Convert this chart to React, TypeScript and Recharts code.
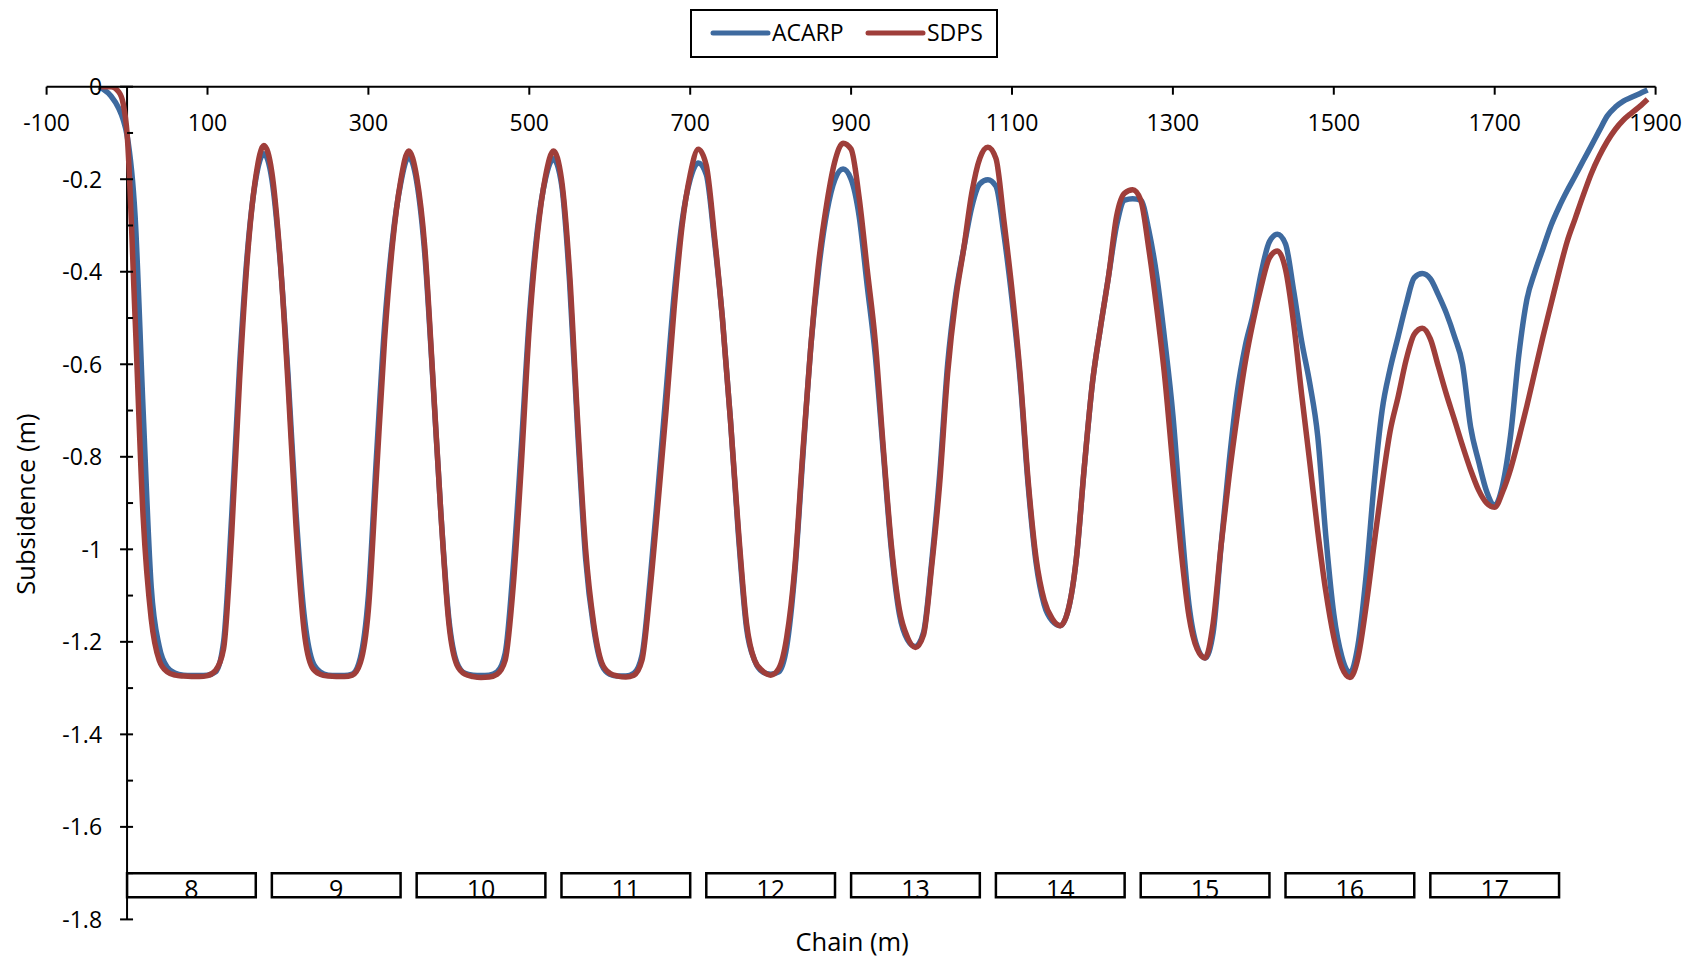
import { LineChart, Line, XAxis, YAxis, ReferenceLine, ReferenceArea, Legend } from "recharts";

// chain positions (m)
const chain = [
  -35, -30, -20, -10, -5,
  0, 10, 20, 30, 40, 50, 60, 70, 80, 90,
  100, 110, 120, 130, 140, 150, 160, 170, 180, 190,
  200, 210, 220, 230, 240, 250, 260, 270, 280, 290,
  300, 310, 320, 330, 340, 350, 360, 370, 380, 390,
  400, 410, 420, 430, 440, 450, 460, 470, 480, 490,
  500, 510, 520, 530, 540, 550, 560, 570, 580, 590,
  600, 610, 620, 630, 640, 650, 660, 670, 680, 690,
  700, 710, 720, 730, 740, 750, 760, 770, 780, 790,
  800, 810, 820, 830, 840, 850, 860, 870, 880, 890,
  900, 910, 920, 930, 940, 950, 960, 970, 980, 990,
  1000, 1010, 1020, 1030, 1040, 1050, 1060, 1070, 1080, 1090,
  1100, 1110, 1120, 1130, 1140, 1150, 1160, 1170, 1180, 1190,
  1200, 1210, 1220, 1230, 1240, 1250, 1260, 1270, 1280, 1290,
  1300, 1310, 1320, 1330, 1340, 1350, 1360, 1370, 1380, 1390,
  1400, 1410, 1420, 1430, 1440, 1450, 1460, 1470, 1480, 1490,
  1500, 1510, 1520, 1530, 1540, 1550, 1560, 1570, 1580, 1590,
  1600, 1610, 1620, 1630, 1640, 1650, 1660, 1670, 1680, 1690,
  1700, 1710, 1720, 1730, 1740, 1750, 1760, 1770, 1780, 1790,
  1800, 1810, 1820, 1830, 1840, 1850, 1860, 1870, 1880, 1890,
];

// ACARP subsidence (m)
const acarp = [
  0, -0.005, -0.02, -0.048, -0.07,
  -0.105, -0.28, -0.7, -1.08, -1.21, -1.255, -1.268, -1.272, -1.273, -1.273,
  -1.272, -1.265, -1.2, -0.93, -0.6, -0.35, -0.2, -0.145, -0.2, -0.37,
  -0.62, -0.92, -1.14, -1.24, -1.265, -1.272, -1.273, -1.273, -1.27, -1.235,
  -1.1, -0.8, -0.52, -0.33, -0.21, -0.152, -0.205, -0.36, -0.63, -0.92,
  -1.15, -1.245, -1.268, -1.272, -1.273, -1.272, -1.265, -1.225, -1.04, -0.78,
  -0.5, -0.31, -0.2, -0.156, -0.21, -0.42, -0.74, -1.02, -1.17, -1.25,
  -1.27, -1.274, -1.274, -1.268, -1.23, -1.07, -0.87, -0.66, -0.45, -0.29,
  -0.2, -0.165, -0.19, -0.33, -0.5, -0.72, -0.97, -1.17, -1.24, -1.265,
  -1.27, -1.265, -1.21, -1.05, -0.8, -0.56, -0.39, -0.27, -0.2, -0.178,
  -0.2, -0.28, -0.43, -0.58, -0.79, -1.0, -1.14, -1.195, -1.21, -1.18,
  -1.03, -0.84, -0.6, -0.45, -0.35, -0.26, -0.21, -0.201, -0.215, -0.32,
  -0.46, -0.63, -0.86, -1.03, -1.12, -1.155, -1.165, -1.13, -1.02, -0.82,
  -0.64, -0.52, -0.41, -0.3, -0.245, -0.242, -0.245, -0.31, -0.41, -0.55,
  -0.71, -0.93, -1.12, -1.21, -1.235, -1.18, -0.99, -0.81, -0.66, -0.56,
  -0.49, -0.4, -0.335, -0.319, -0.34, -0.44, -0.55, -0.64, -0.755, -0.97,
  -1.14, -1.232, -1.267, -1.208, -1.06, -0.86, -0.7, -0.61, -0.54, -0.47,
  -0.413, -0.404, -0.415, -0.45, -0.49, -0.54, -0.6, -0.735, -0.81, -0.875,
  -0.905, -0.86, -0.75, -0.58, -0.46, -0.4, -0.35, -0.3, -0.26, -0.225,
  -0.193, -0.16, -0.128, -0.095, -0.063, -0.044, -0.031, -0.023, -0.015, -0.007,
];

// SDPS subsidence (m)
const sdps = [
  0, 0, 0, -0.012, -0.035,
  -0.1, -0.5, -0.93, -1.15, -1.24, -1.265, -1.272, -1.274, -1.275, -1.275,
  -1.273, -1.262, -1.215, -0.97, -0.63, -0.36, -0.195, -0.127, -0.185, -0.365,
  -0.64, -0.95, -1.175, -1.255, -1.27, -1.274, -1.275, -1.275, -1.272, -1.245,
  -1.13, -0.84, -0.55, -0.34, -0.205, -0.139, -0.195, -0.345, -0.625, -0.92,
  -1.16, -1.25, -1.27, -1.275, -1.277, -1.276, -1.27, -1.24, -1.08, -0.82,
  -0.52, -0.32, -0.195, -0.139, -0.2, -0.4, -0.72, -1.0, -1.16, -1.245,
  -1.268, -1.274, -1.276, -1.272, -1.24, -1.09, -0.9, -0.7, -0.48, -0.3,
  -0.19, -0.135, -0.17, -0.32, -0.5, -0.72, -0.96, -1.16, -1.24, -1.263,
  -1.272, -1.258, -1.19, -1.04, -0.79, -0.56, -0.375, -0.25, -0.16, -0.122,
  -0.135, -0.24, -0.395, -0.55, -0.78, -0.99, -1.13, -1.19, -1.212, -1.185,
  -1.04, -0.86, -0.62, -0.46, -0.35, -0.23, -0.155, -0.131, -0.155, -0.29,
  -0.44, -0.62, -0.85, -1.02, -1.11, -1.15, -1.165, -1.13, -1.02, -0.82,
  -0.64, -0.52, -0.41, -0.28, -0.23, -0.223, -0.245, -0.35, -0.48, -0.63,
  -0.82, -1.0, -1.145, -1.215, -1.235, -1.16, -0.99, -0.84, -0.71, -0.595,
  -0.505, -0.43, -0.37, -0.355, -0.395, -0.51, -0.665, -0.81, -0.96, -1.09,
  -1.19, -1.255, -1.277, -1.235, -1.125, -0.99, -0.86, -0.745, -0.67, -0.59,
  -0.535, -0.522, -0.545, -0.605, -0.665, -0.72, -0.776, -0.828, -0.872, -0.9,
  -0.909, -0.875, -0.825, -0.76, -0.69, -0.615, -0.54, -0.47, -0.4, -0.335,
  -0.285, -0.235, -0.188, -0.15, -0.118, -0.092, -0.072, -0.057, -0.043, -0.027,
];

// longwall panels along the line
const panelNames = ["8", "9", "10", "11", "12", "13", "14", "15", "16", "17"];
const panelStart = [0, 180, 360, 540, 720, 900, 1080, 1260, 1440, 1620];
const panelEnd = [160, 340, 520, 700, 880, 1060, 1240, 1420, 1600, 1780];

const xTicks = [-100, 100, 300, 500, 700, 900, 1100, 1300, 1500, 1700, 1900];
const yTicks = [0, -0.1, -0.2, -0.3, -0.4, -0.5, -0.6, -0.7, -0.8, -0.9, -1, -1.1, -1.2, -1.3, -1.4, -1.5, -1.6, -1.7, -1.8];

const rows = chain.map((c, i) => ({ chain: c, acarp: acarp[i], sdps: sdps[i] }));

const BLUE = "#3E6A9F";
const RED = "#9F3E3A";
const FONT = "'Open Sans', sans-serif";

const W = 1700;
const H = 960;
const PLOT_LEFT = 46.6;
const PLOT_RIGHT = 1655.6;
const PLOT_TOP = 86.7;
const PLOT_BOTTOM = 919.4;
const TOP_AXIS_H = 30;
const BOTTOM_AXIS_H = 40;
const AXIS_X = PLOT_LEFT + ((0 - -100) / 2000) * (PLOT_RIGHT - PLOT_LEFT);

function XTick(props: any) {
  const { x, payload } = props;
  return (
    <g>
      <line x1={x} x2={x} y1={PLOT_TOP} y2={PLOT_TOP + 8} stroke="#000" strokeWidth={2} />
      <text x={x} y={PLOT_TOP + 44} textAnchor="middle" fontSize={23} fontFamily={FONT} fill="#000">
        {payload.value}
      </text>
    </g>
  );
}

function YTick(props: any) {
  const { y, payload } = props;
  const v = payload.value;
  const major = Math.round(Math.abs(v) * 10) % 2 === 0;
  if (!major) return <line x1={AXIS_X} x2={AXIS_X + 6} y1={y} y2={y} stroke="#000" strokeWidth={2} />;
  return (
    <g>
      <line x1={AXIS_X - 7} x2={AXIS_X + 6} y1={y} y2={y} stroke="#000" strokeWidth={2} />
      <text x={AXIS_X - 25} y={y} dy="0.36em" textAnchor="end" fontSize={23} fontFamily={FONT} fill="#000">
        {String(v)}
      </text>
    </g>
  );
}

function YTitle(props: any) {
  const vb = props.viewBox;
  const cy = vb.y + vb.height / 2 + 1;
  return (
    <text x={26} y={cy} transform={`rotate(-90 26 ${cy})`} dy="0.36em" textAnchor="middle" fontSize={25.5} fontFamily={FONT} fill="#000">
      Subsidence (m)
    </text>
  );
}

function XTitle(props: any) {
  const vb = props.viewBox;
  return (
    <text x={vb.x + vb.width / 2 + 1} y={951} textAnchor="middle" fontSize={25.5} fontFamily={FONT} fill="#000">
      Chain (m)
    </text>
  );
}

function PanelLabel(props: any) {
  const vb = props.viewBox;
  return (
    <text x={vb.x + vb.width / 2} y={vb.y + vb.height + 1} textAnchor="middle" fontSize={25} fontFamily={FONT} fill="#000">
      {props.value}
    </text>
  );
}

function LegendBox(props: any) {
  const items = props.payload && props.payload.length
    ? props.payload
    : [{ value: "ACARP", color: BLUE }, { value: "SDPS", color: RED }];
  const starts = [23, 178];
  return (
    <svg width={308} height={49} style={{ display: "block" }}>
      <rect x={1} y={1} width={306} height={47} fill="#fff" stroke="#000" strokeWidth={2} />
      {items.map((it: any, i: number) => (
        <g key={i}>
          <line x1={starts[i]} x2={starts[i] + 55} y1={24} y2={24} stroke={it.color} strokeWidth={5} strokeLinecap="round" />
          <text x={starts[i] + 59} y={31.5} fontSize={23} fontFamily={FONT} fill="#000">{it.value}</text>
        </g>
      ))}
    </svg>
  );
}

export default function App() {
  return (
    <div style={{ position: "absolute", left: 0, top: 0, width: W, height: H, background: "#fff", fontFamily: FONT }}>
      <LineChart
        width={W}
        height={H}
        data={rows}
        margin={{ top: PLOT_TOP - TOP_AXIS_H, right: W - PLOT_RIGHT, bottom: H - PLOT_BOTTOM - BOTTOM_AXIS_H, left: 0 }}
      >
        <XAxis
          dataKey="chain"
          type="number"
          orientation="top"
          domain={[-100, 1900]}
          ticks={xTicks}
          interval={0}
          height={TOP_AXIS_H}
          tickSize={0}
          tickMargin={0}
          tickLine={false}
          axisLine={{ stroke: "#000", strokeWidth: 2 }}
          tick={XTick}
          allowDataOverflow
        />
        <XAxis
          xAxisId="bottom"
          type="number"
          orientation="bottom"
          domain={[-100, 1900]}
          height={BOTTOM_AXIS_H}
          axisLine={false}
          tickLine={false}
          tick={false}
          label={{ content: XTitle }}
        />
        <YAxis
          type="number"
          domain={[-1.8, 0]}
          ticks={yTicks}
          interval={0}
          width={PLOT_LEFT}
          tickSize={0}
          tickMargin={0}
          tickLine={false}
          axisLine={false}
          tick={YTick}
          allowDataOverflow
          label={{ content: YTitle }}
        />
        <ReferenceLine x={0} stroke="#000" strokeWidth={2} />
        {panelNames.map((name, i) => (
          <ReferenceArea
            key={name}
            x1={panelStart[i]}
            x2={panelEnd[i]}
            y1={-1.752}
            y2={-1.7}
            fill="#fff"
            fillOpacity={1}
            stroke="#000"
            strokeWidth={2.5}
            label={{ value: name, content: PanelLabel }}
          />
        ))}
        <Legend
          verticalAlign="middle"
          align="center"
          layout="horizontal"
          wrapperStyle={{ left: 690, top: 9, width: 308, height: 49 }}
          content={LegendBox}
        />
        <Line dataKey="acarp" name="ACARP" type="monotone" stroke={BLUE} strokeWidth={5.5} dot={false} isAnimationActive={false} strokeLinejoin="round" />
        <Line dataKey="sdps" name="SDPS" type="monotone" stroke={RED} strokeWidth={5.5} dot={false} isAnimationActive={false} strokeLinejoin="round" />
      </LineChart>
    </div>
  );
}
